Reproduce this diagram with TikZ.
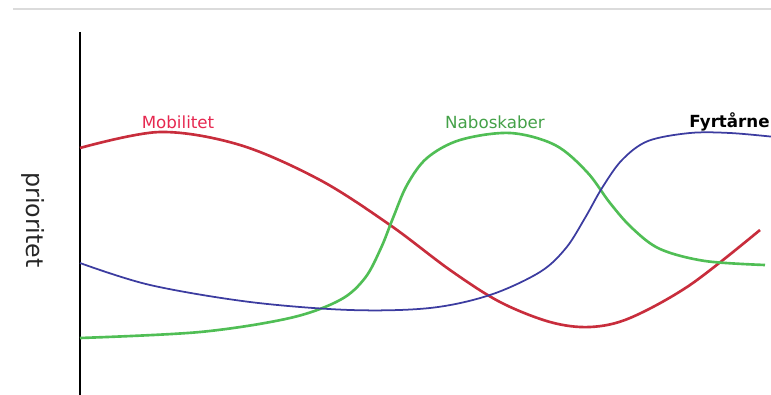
\documentclass[tikz,border=0pt]{standalone}
\usepackage{fontspec}
\setmainfont{DejaVu Sans}
\usetikzlibrary{positioning}

\definecolor{mobRed}{RGB}{200,45,60}
\definecolor{mobLabel}{RGB}{230,40,80}
\definecolor{naboGreen}{RGB}{80,190,85}
\definecolor{fyrBlue}{RGB}{60,60,160}

\begin{document}
\begin{tikzpicture}[
    x=0.02cm, y=-0.02cm,
    % --- stiluri ---
    curve/.style={
            line width=1.5pt,
            smooth,
            tension=0.55
        },
    lbl/.style={
            font=\fontsize{9.5}{11}\selectfont,
            inner sep=0pt
        }
    ]

    \useasboundingbox (0,0) rectangle (771,395);

    % 1. Linia gri de sus
    \draw[line width=1.6pt, black!14] (13,9) -- (771,9);

    % 2. Axa verticala
    \coordinate (axTop) at (80,32);
    \coordinate (axBot) at (80,395);
    \draw[line width=1pt] (axTop) -- (axBot);
    \node[rotate=-90, font=\fontsize{13.5}{15}\selectfont, color=black!85] (prio) at (33,220) {prioritet};

    % 3. Curbe
    \draw[curve, mobRed] plot coordinates {(80,148) (160,132) (240,145) (320,180) (390,225)
        (450,270) (500,302) (550,322) (590,327) (630,318) (690,285) (760,230)};
    \draw[curve, naboGreen] plot coordinates {(80,338) (200,332) (290,318) (340,300) (365,278)
        (381,248) (393,218) (407,185) (427,158) (460,140) (510,133) (555,145) (587,172)
        (610,203) (632,228) (660,249) (705,261) (765,265)};
    \draw[curve, fyrBlue, line width=1pt] plot coordinates {(80,263) (150,285) (250,302) (350,310)
        (430,308) (490,295) (540,272) (566,248) (585,218) (602,188) (622,160) (648,141)
        (690,133) (730,133) (775,137)};

    % 4. Etichete
    \node[lbl, color=mobLabel] (mob) at (178,122) {Mobilitet};
    \node[lbl, color=naboGreen!85!black] (nabo) at (495,122) {Naboskaber};
    \node[lbl, anchor=east, font=\fontsize{9.5}{11}\selectfont\bfseries] (fyr) at (770,122) {Fyrtårne};

\end{tikzpicture}
\end{document}
